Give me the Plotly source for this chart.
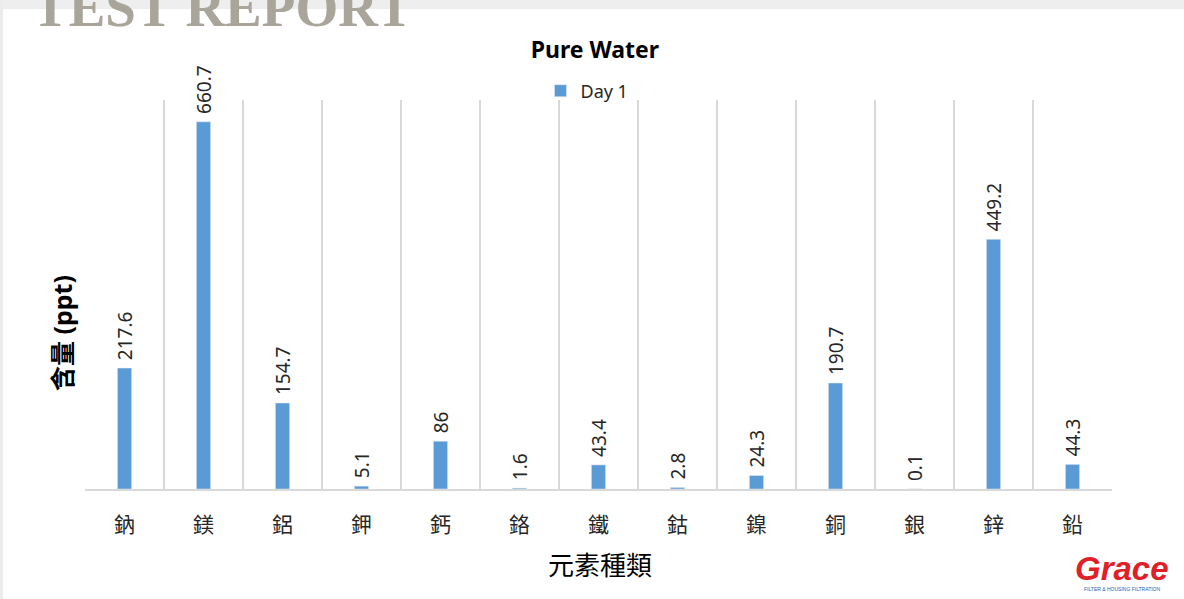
import plotly.graph_objects as go

elements = ["鈉", "鎂", "鋁", "鉀", "鈣", "鉻", "鐵", "鈷", "鎳", "銅", "銀", "鋅", "鉛"]
day1 = [217.6, 660.7, 154.7, 5.1, 86, 1.6, 43.4, 2.8, 24.3, 190.7, 0.1, 449.2, 44.3]
day1_labels = ["217.6", "660.7", "154.7", "5.1", "86", "1.6", "43.4", "2.8", "24.3", "190.7", "0.1", "449.2", "44.3"]

FONT = "Noto Sans, Noto Sans CJK TC, sans-serif"
W, H = 1184, 599
L, R, T, B = 85, 72, 100, 110
PW, PH = W - L - R, H - T - B


def px(x):
    return (x - L) / PW


def py(y):
    return (H - B - y) / PH


fig = go.Figure()
fig.add_trace(go.Bar(
    x=elements, y=day1, name="Day 1",
    marker=dict(color="#5b9bd5"),
    text=[" " + s for s in day1_labels], textposition="outside", textangle=-90,
    textfont=dict(family=FONT, size=19, color="#262626"),
    constraintext="none", cliponaxis=False,
    showlegend=True,
))

fig.update_layout(
    width=W, height=H,
    margin=dict(l=L, r=R, t=T, b=B),
    paper_bgcolor="white", plot_bgcolor="white",
    bargap=0.82,
    font=dict(family=FONT, color="#262626"),
    title=dict(text="<b>Pure Water</b>", x=px(601), xanchor="center",
               y=1 - 50 / H, yanchor="middle",
               font=dict(family=FONT, size=23, color="#000000")),
    showlegend=True,
    legend=dict(orientation="h", x=px(587), xanchor="center", y=py(91), yanchor="middle",
                font=dict(family=FONT, size=18, color="#262626"),
                itemwidth=30, bgcolor="rgba(0,0,0,0)"),
    xaxis=dict(type="category", tickson="boundaries", showgrid=True,
               gridcolor="#d9d9d9", gridwidth=1.5,
               showline=True, linecolor="#d9d9d9", linewidth=2,
               ticks="", ticklabelstandoff=16,
               tickfont=dict(family=FONT, size=21, color="#262626"),
               range=[-0.5, 12.5]),
    yaxis=dict(range=[0, 700], showgrid=False, showticklabels=False,
               zeroline=False, showline=False, ticks=""),
)

# axis titles
fig.add_annotation(text="<b>含量 (ppt)</b>", xref="paper", yref="paper",
                   x=px(62), xanchor="center", y=py(333), yanchor="middle",
                   textangle=-90, showarrow=False,
                   font=dict(family=FONT, size=25, color="#000000"))
fig.add_annotation(text="元素種類", xref="paper", yref="paper",
                   x=px(600), xanchor="center", y=py(565), yanchor="middle",
                   showarrow=False,
                   font=dict(family=FONT, size=26, color="#000000"))

# header band and watermark
fig.add_shape(type="rect", xref="paper", yref="paper",
              x0=px(0), x1=px(W), y0=py(9), y1=py(0),
              fillcolor="#eeeeee", line=dict(width=0), layer="below")
fig.add_shape(type="rect", xref="paper", yref="paper",
              x0=px(0), x1=px(3), y0=py(H), y1=py(0),
              fillcolor="#ececec", line=dict(width=0), layer="below")
fig.add_annotation(text="<b>TEST REPORT</b>", xref="paper", yref="paper",
                   x=px(30), xanchor="left", y=py(40), yanchor="bottom",
                   showarrow=False,
                   font=dict(family="Liberation Serif", size=55, color="#a9a59b"))

# logo
fig.add_annotation(text="<b><i>Grace</i></b>", xref="paper", yref="paper",
                   x=px(1122), xanchor="center", y=py(568), yanchor="middle",
                   showarrow=False,
                   font=dict(family="Liberation Sans", size=33, color="#e02028"))
fig.add_annotation(text="FILTER & HOUSING FILTRATION", xref="paper", yref="paper",
                   x=px(1122), xanchor="center", y=py(589), yanchor="middle",
                   showarrow=False,
                   font=dict(family="Liberation Sans", size=5, color="#2a5db0"))

fig.write_html("out.html", config={"displayModeBar": False},
               post_script="document.body.style.margin='0';")
